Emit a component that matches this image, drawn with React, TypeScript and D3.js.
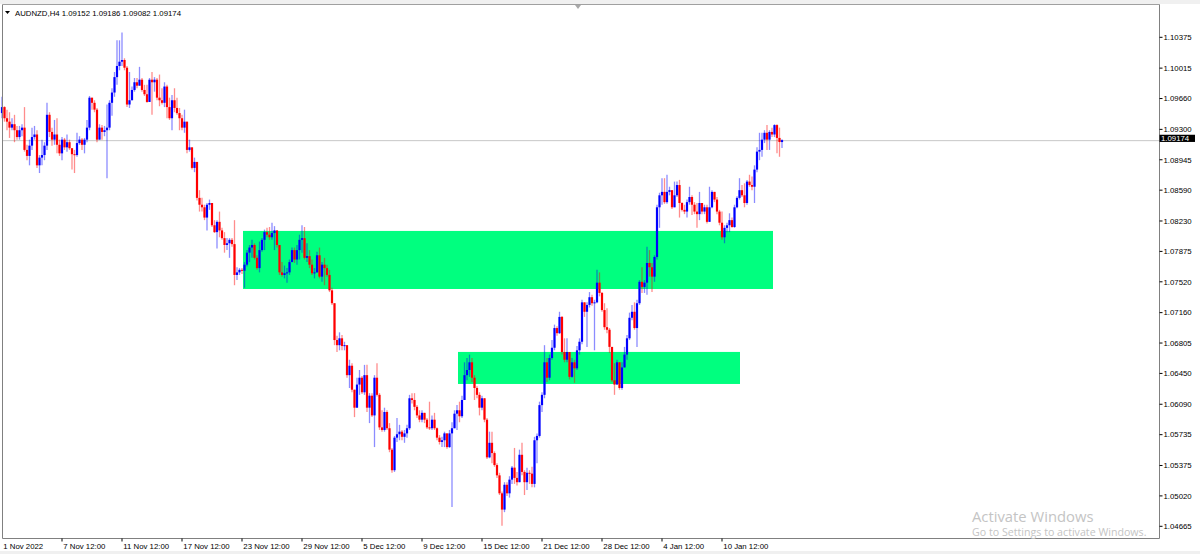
import React from "react";
import * as d3 from "d3";

const symbolLabel = "AUDNZD,H4";
const headerValues = ["1.09152", "1.09186", "1.09082", "1.09174"];
const firstOpen = 1.0949;

const closes = [
  1.0956,1.0943,1.0939,1.0932,1.0936,1.0929,1.0921,1.0929,1.0932,1.0906,
  1.0899,1.0911,1.0921,1.0924,1.0888,1.0897,1.0900,1.0911,1.0947,1.0927,
  1.0918,1.0924,1.0912,1.0902,1.0918,1.0909,1.0915,1.0908,1.0901,1.0900,
  1.0914,1.0918,1.0912,1.0918,1.0932,1.0967,1.0961,1.0953,1.0918,1.0932,
  1.0927,1.0929,1.0932,1.0961,1.0973,1.0991,1.1004,1.1009,1.1011,1.1002,
  1.0959,1.0964,1.0976,1.0985,1.0981,1.0988,1.0976,1.0971,1.0962,1.0988,
  1.0985,1.0988,1.0967,1.0964,1.0961,1.0980,1.0956,1.0943,1.0964,1.0955,
  1.0949,1.0943,1.0932,1.0939,1.0906,1.0909,1.0885,1.0892,1.0850,1.0842,
  1.0839,1.0827,1.0842,1.0844,1.0818,1.0810,1.0822,1.0812,1.0803,1.0795,
  1.0797,1.0801,1.0796,1.0760,1.0763,1.0766,1.0765,1.0772,1.0786,1.0792,
  1.0795,1.0780,1.0768,1.0789,1.0801,1.0810,1.0807,1.0804,1.0809,1.0812,
  1.0795,1.0763,1.0760,1.0762,1.0763,1.0775,1.0789,1.0778,1.0789,1.0801,
  1.0803,1.0780,1.0782,1.0772,1.0762,1.0763,1.0783,1.0758,1.0772,1.0768,
  1.0760,1.0742,1.0727,1.0684,1.0678,1.0686,1.0677,1.0678,1.0643,1.0654,
  1.0626,1.0605,1.0632,1.0640,1.0623,1.0643,1.0605,1.0619,1.0596,1.0640,
  1.0620,1.0582,1.0579,1.0600,1.0581,1.0556,1.0532,1.0570,1.0574,1.0577,
  1.0571,1.0575,1.0581,1.0616,1.0614,1.0606,1.0596,1.0591,1.0599,1.0591,
  1.0582,1.0581,1.0591,1.0581,1.0570,1.0565,1.0567,1.0575,1.0559,1.0575,
  1.0581,1.0598,1.0602,1.0595,1.0614,1.0643,1.0649,1.0658,1.0640,1.0628,
  1.0620,1.0605,1.0616,1.0591,1.0547,1.0564,1.0552,1.0538,1.0526,1.0505,
  1.0486,1.0515,1.0505,1.0521,1.0535,1.0523,1.0518,1.0550,1.0530,1.0518,
  1.0529,1.0528,1.0516,1.0567,1.0572,1.0608,1.0620,1.0658,1.0640,1.0663,
  1.0675,1.0698,1.0692,1.0711,1.0670,1.0661,1.0670,1.0641,1.0658,1.0651,
  1.0672,1.0682,1.0728,1.0717,1.0725,1.0734,1.0727,1.0728,1.0751,1.0739,
  1.0719,1.0699,1.0696,1.0676,1.0637,1.0632,1.0658,1.0628,1.0652,1.0667,
  1.0686,1.0710,1.0717,1.0698,1.0727,1.0752,1.0746,1.0751,1.0774,1.0769,
  1.0758,1.0781,1.0839,1.0853,1.0857,1.0845,1.0857,1.0859,1.0839,1.0853,
  1.0865,1.0844,1.0836,1.0834,1.0845,1.0851,1.0842,1.0834,1.0831,1.0844,
  1.0834,1.0839,1.0822,1.0839,1.0857,1.0848,1.0834,1.0821,1.0804,1.0815,
  1.0818,1.0824,1.0816,1.0839,1.0850,1.0859,1.0853,1.0844,1.0869,1.0865,
  1.0863,1.0883,1.0904,1.0906,1.0918,1.0926,1.0918,1.0927,1.0924,1.0935,
  1.0920,1.09152,1.09174,
];

const highs = [
  1.0968,1.0957,1.0953,1.0950,1.0943,1.0947,1.0934,1.0934,1.0936,1.0956,
  1.0912,1.0918,1.0932,1.0934,1.0929,1.0900,1.0918,1.0915,1.0961,1.0950,
  1.0932,1.0941,1.0943,1.0918,1.0921,1.0920,1.0924,1.0918,1.0908,1.0906,
  1.0926,1.0922,1.0920,1.0920,1.0941,1.0969,1.0966,1.0964,1.0955,1.0936,
  1.0935,1.0934,1.0959,1.0964,1.0978,1.0997,1.1034,1.1034,1.1043,1.1013,
  1.1004,1.0997,1.0980,1.0990,1.0990,1.1003,1.0990,1.0982,1.0982,1.0990,
  1.0997,1.0991,1.0990,1.0994,1.0978,1.0985,1.0982,1.0967,1.0970,1.0978,
  1.0967,1.0955,1.0947,1.0953,1.0932,1.0918,1.0906,1.0897,1.0892,1.0859,
  1.0850,1.0842,1.0844,1.0848,1.0842,1.0824,1.0824,1.0834,1.0815,1.0810,
  1.0803,1.0803,1.0803,1.0824,1.0769,1.0768,1.0768,1.0775,1.0789,1.0795,
  1.0801,1.0797,1.0783,1.0799,1.0803,1.0813,1.0815,1.0816,1.0821,1.0817,
  1.0812,1.0795,1.0775,1.0771,1.0768,1.0778,1.0792,1.0792,1.0795,1.0807,
  1.0818,1.0816,1.0797,1.0789,1.0778,1.0768,1.0787,1.0792,1.0775,1.0780,
  1.0772,1.0766,1.0745,1.0727,1.0689,1.0693,1.0690,1.0682,1.0678,1.0661,
  1.0657,1.0626,1.0640,1.0649,1.0642,1.0655,1.0655,1.0622,1.0622,1.0643,
  1.0657,1.0622,1.0602,1.0605,1.0602,1.0587,1.0558,1.0572,1.0593,1.0585,
  1.0579,1.0579,1.0585,1.0620,1.0622,1.0622,1.0608,1.0602,1.0602,1.0599,
  1.0593,1.0612,1.0596,1.0599,1.0582,1.0573,1.0571,1.0577,1.0575,1.0579,
  1.0588,1.0602,1.0608,1.0612,1.0619,1.0658,1.0663,1.0667,1.0663,1.0643,
  1.0630,1.0623,1.0619,1.0616,1.0593,1.0577,1.0577,1.0554,1.0540,1.0529,
  1.0507,1.0518,1.0518,1.0525,1.0537,1.0558,1.0530,1.0556,1.0564,1.0532,
  1.0535,1.0532,1.0536,1.0571,1.0575,1.0612,1.0623,1.0678,1.0663,1.0667,
  1.0684,1.0702,1.0700,1.0717,1.0712,1.0686,1.0686,1.0670,1.0663,1.0661,
  1.0677,1.0686,1.0731,1.0728,1.0728,1.0740,1.0737,1.0731,1.0766,1.0763,
  1.0740,1.0727,1.0721,1.0698,1.0676,1.0657,1.0661,1.0657,1.0658,1.0676,
  1.0690,1.0716,1.0725,1.0728,1.0731,1.0754,1.0769,1.0754,1.0793,1.0789,
  1.0774,1.0783,1.0842,1.0856,1.0873,1.0873,1.0877,1.0863,1.0859,1.0869,
  1.0869,1.0871,1.0845,1.0842,1.0848,1.0863,1.0853,1.0845,1.0844,1.0857,
  1.0844,1.0842,1.0842,1.0863,1.0859,1.0853,1.0851,1.0836,1.0834,1.0818,
  1.0821,1.0832,1.0827,1.0842,1.0852,1.0873,1.0865,1.0867,1.0871,1.0877,
  1.0875,1.0888,1.0909,1.0926,1.0926,1.0929,1.0935,1.0929,1.0932,1.0936,
  1.0936,1.0932,1.09186,
];

const lows = [
  1.0943,1.0939,1.0929,1.0920,1.0929,1.0915,1.0918,1.0918,1.0922,1.0904,
  1.0894,1.0888,1.0906,1.0918,1.0885,1.0879,1.0888,1.0894,1.0906,1.0921,
  1.0911,1.0912,1.0902,1.0899,1.0894,1.0906,1.0904,1.0906,1.0883,1.0879,
  1.0898,1.0912,1.0906,1.0902,1.0915,1.0929,1.0953,1.0950,1.0915,1.0918,
  1.0918,1.0922,1.0873,1.0929,1.0946,1.0968,1.0982,1.0999,1.1004,1.0999,
  1.0956,1.0955,1.0964,1.0974,1.0978,1.0981,1.0974,1.0969,1.0961,1.0962,
  1.0947,1.0974,1.0964,1.0957,1.0959,1.0956,1.0943,1.0941,1.0929,1.0950,
  1.0947,1.0929,1.0929,1.0926,1.0902,1.0904,1.0883,1.0880,1.0847,1.0834,
  1.0834,1.0824,1.0812,1.0836,1.0816,1.0809,1.0791,1.0804,1.0801,1.0786,
  1.0789,1.0780,1.0793,1.0748,1.0754,1.0760,1.0761,1.0745,1.0770,1.0775,
  1.0780,1.0778,1.0766,1.0763,1.0787,1.0789,1.0804,1.0801,1.0801,1.0789,
  1.0792,1.0760,1.0758,1.0756,1.0751,1.0760,1.0775,1.0774,1.0772,1.0778,
  1.0786,1.0778,1.0775,1.0768,1.0760,1.0756,1.0763,1.0756,1.0752,1.0748,
  1.0758,1.0740,1.0725,1.0678,1.0670,1.0672,1.0672,1.0672,1.0640,1.0628,
  1.0623,1.0594,1.0614,1.0620,1.0621,1.0620,1.0600,1.0587,1.0594,1.0559,
  1.0618,1.0579,1.0577,1.0577,1.0579,1.0553,1.0529,1.0530,1.0565,1.0567,
  1.0567,1.0564,1.0570,1.0579,1.0610,1.0602,1.0593,1.0588,1.0588,1.0587,
  1.0580,1.0579,1.0579,1.0579,1.0567,1.0562,1.0559,1.0559,1.0557,1.0558,
  1.0489,1.0581,1.0579,1.0588,1.0593,1.0614,1.0637,1.0641,1.0635,1.0614,
  1.0616,1.0596,1.0602,1.0588,1.0545,1.0546,1.0540,1.0536,1.0523,1.0503,
  1.0467,1.0483,1.0502,1.0500,1.0516,1.0516,1.0514,1.0518,1.0526,1.0503,
  1.0509,1.0516,1.0512,1.0512,1.0540,1.0570,1.0600,1.0616,1.0635,1.0637,
  1.0661,1.0672,1.0689,1.0691,1.0667,1.0658,1.0658,1.0638,1.0640,1.0634,
  1.0649,1.0667,1.0679,1.0711,1.0676,1.0722,1.0724,1.0672,1.0727,1.0735,
  1.0717,1.0696,1.0692,1.0669,1.0635,1.0620,1.0637,1.0626,1.0626,1.0652,
  1.0661,1.0684,1.0707,1.0696,1.0676,1.0725,1.0739,1.0739,1.0737,1.0758,
  1.0740,1.0752,1.0778,1.0815,1.0842,1.0843,1.0843,1.0853,1.0837,1.0839,
  1.0851,1.0827,1.0834,1.0831,1.0827,1.0842,1.0830,1.0831,1.0815,1.0824,
  1.0831,1.0831,1.0820,1.0822,1.0838,1.0845,1.0831,1.0818,1.0801,1.0797,
  1.0810,1.0810,1.0815,1.0815,1.0838,1.0848,1.0851,1.0839,1.0842,1.0863,
  1.0859,1.0844,1.0880,1.0894,1.0898,1.0914,1.0906,1.0906,1.0921,1.0921,
  1.0902,1.0898,1.09082,
];

const timeLabels = [
  "1 Nov 2022", "7 Nov 12:00", "11 Nov 12:00", "17 Nov 12:00", "23 Nov 12:00",
  "29 Nov 12:00", "5 Dec 12:00", "9 Dec 12:00", "15 Dec 12:00", "21 Dec 12:00",
  "28 Dec 12:00", "4 Jan 12:00", "10 Jan 12:00",
];
const barsPerTimeLabel = 24;

const priceTicks = [
  1.10375, 1.10015, 1.0966, 1.093, 1.08945, 1.0859, 1.0823, 1.07875, 1.0752,
  1.0716, 1.06805, 1.0645, 1.0609, 1.05735, 1.05375, 1.0502, 1.04665,
];

// supply/demand zones: bar index span and price span
const zoneStartBar = [96.4, 182.4];
const zoneEndBar = [308.4, 295.2];
const zoneHigh = [1.08114, 1.06701];
const zoneLow = [1.07436, 1.06327];

const FONT = "'Liberation Sans', Arial, sans-serif";

export default function App() {
  const n = closes.length;
  const bars = closes.map((c, i) => {
    const o = i === 0 ? firstOpen : closes[i - 1];
    return {
      i,
      o,
      c,
      h: Math.max(highs[i], o, c),
      l: Math.min(lows[i], o, c),
    };
  });

  const plotLeft = 2.5;
  const plotRight = 1159.5;
  const plotTop = 4.5;
  const plotBottom = 538.5;

  const x = d3.scaleLinear().domain([0, n - 1]).range([2, 782]);
  const y = d3.scaleLinear().domain([1.04665, 1.10375]).range([526.3, 37.3]);

  const lastClose = closes[n - 1];
  const yLast = y(lastClose);

  const bull = "#0000ff";
  const bear = "#ff0000";

  return (
    <svg
      width={1200}
      height={554}
      style={{ position: "absolute", left: 0, top: 0, display: "block" }}
      fontFamily={FONT}
    >
      <rect x={0} y={0} width={1200} height={554} fill="#ffffff" />
      {/* top strip */}
      <rect x={0} y={0} width={1200} height={4} fill="#f0f0f0" />
      {/* bottom strip */}
      <rect x={0} y={551} width={1200} height={3} fill="#f0f0f0" />

      {/* zones */}
      {zoneStartBar.map((s, k) => (
        <rect
          key={"z" + k}
          x={x(s)}
          y={y(zoneHigh[k])}
          width={x(zoneEndBar[k]) - x(s)}
          height={y(zoneLow[k]) - y(zoneHigh[k])}
          fill="#00ff7f"
        />
      ))}

      {/* current price line */}
      <line
        x1={plotLeft}
        x2={plotRight}
        y1={yLast + 0.5}
        y2={yLast + 0.5}
        stroke="#c8c8c8"
        strokeWidth={1}
      />

      {/* candles */}
      {bars.map((b) => {
        const cx = x(b.i);
        const col = b.c >= b.o ? bull : bear;
        const top = y(Math.max(b.o, b.c));
        const bot = y(Math.min(b.o, b.c));
        return (
          <g key={b.i}>
            <line
              x1={cx}
              x2={cx}
              y1={y(b.h)}
              y2={y(b.l)}
              stroke={col}
              strokeWidth={1.3}
              strokeOpacity={0.45}
            />
            <rect
              x={cx - 1.1}
              y={top}
              width={2.2}
              height={Math.max(1, bot - top)}
              fill={col}
            />
          </g>
        );
      })}

      {/* frame */}
      <line x1={plotLeft} x2={plotLeft} y1={plotTop} y2={plotBottom} stroke="#808080" />
      <line x1={plotLeft} x2={plotRight} y1={plotTop} y2={plotTop} stroke="#a0a0a0" />
      <line x1={plotRight} x2={plotRight} y1={plotTop} y2={plotBottom} stroke="#808080" />
      <line x1={plotLeft} x2={plotRight} y1={plotBottom} y2={plotBottom} stroke="#808080" />
      <polygon points="575,5 581,5 578,9" fill="#a8a8a8" />

      {/* header */}
      <polygon points="5,11 10,11 7.5,14" fill="#000" />
      <text x={15} y={16} fontSize={7.8} fill="#000">
        {symbolLabel + "  " + headerValues.join(" ")}
      </text>

      {/* price axis */}
      {priceTicks.map((p) => (
        <g key={p}>
          <line x1={plotRight} x2={plotRight + 3} y1={y(p)} y2={y(p)} stroke="#000" />
          <text x={1163.5} y={y(p) + 2.8} fontSize={7.8} fill="#000">
            {p.toFixed(5)}
          </text>
        </g>
      ))}
      <rect x={1159.5} y={yLast - 5.4} width={35.5} height={7.2} fill="#000" />
      <text x={1161} y={yLast + 1.1} fontSize={7.8} fill="#fff">
        {lastClose.toFixed(5)}
      </text>

      {/* time axis */}
      {timeLabels.map((t, k) => {
        const tx = x(k * barsPerTimeLabel);
        return (
          <g key={t}>
            {k > 0 && (
              <line x1={tx} x2={tx} y1={plotBottom} y2={plotBottom + 3} stroke="#000" />
            )}
            <text x={tx + 1.3} y={548.5} fontSize={7.8} fill="#000">
              {t}
            </text>
          </g>
        );
      })}

      {/* OS watermark */}
      <text
        x={972}
        y={521.5}
        fontSize={14.5}
        fill="#c4c4c4"
        fontFamily="'Open Sans', 'Noto Sans', sans-serif"
        textLength={121.5}
        lengthAdjust="spacingAndGlyphs"
      >
        Activate Windows
      </text>
      <text
        x={972}
        y={536}
        fontSize={10}
        fill="#c4c4c4"
        fontFamily="'Open Sans', 'Noto Sans', sans-serif"
        textLength={174.5}
        lengthAdjust="spacingAndGlyphs"
      >
        Go to Settings to activate Windows.
      </text>
    </svg>
  );
}
